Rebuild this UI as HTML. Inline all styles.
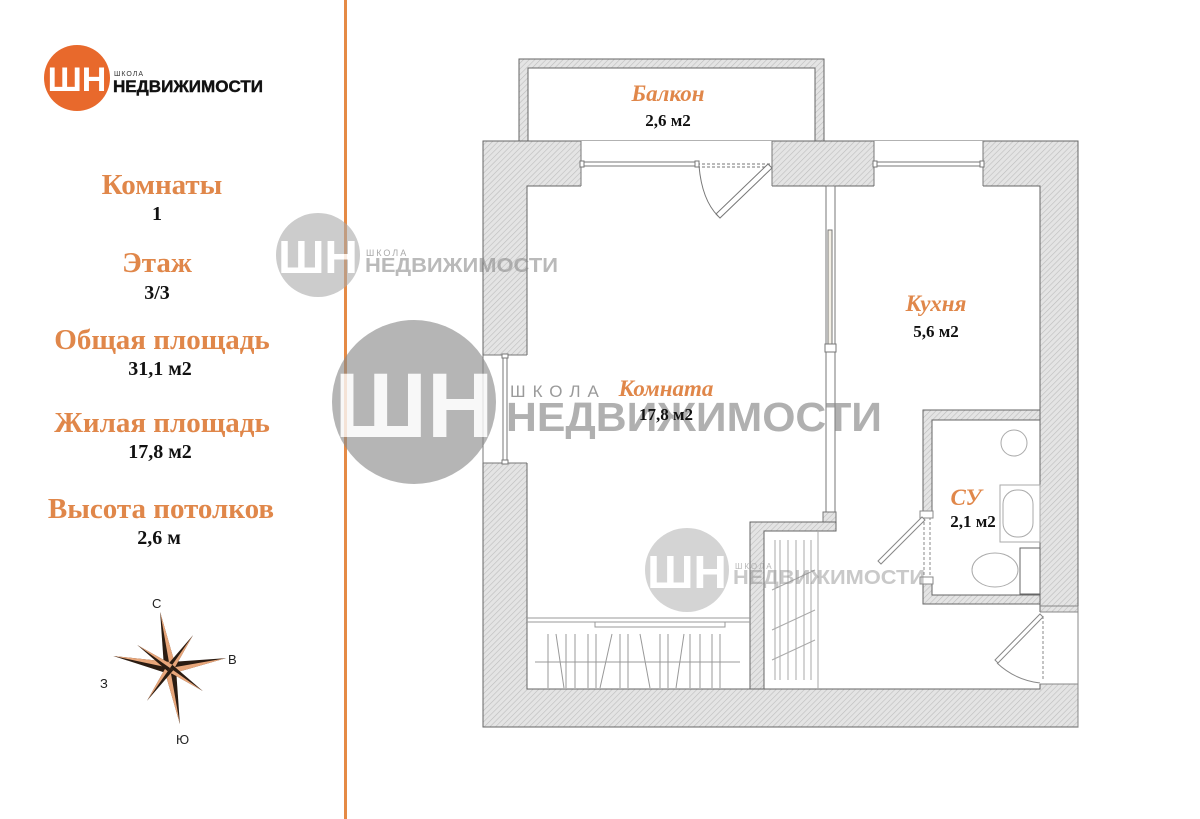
<!DOCTYPE html>
<html><head><meta charset="utf-8"><style>
html,body{margin:0;padding:0;background:#fff;}
svg{display:block}
.o{font-family:"Liberation Serif",serif;font-weight:bold;fill:#e0874a;text-anchor:middle}
.b{font-family:"Liberation Serif",serif;font-weight:bold;fill:#111;text-anchor:middle}
.wm{font-family:"Liberation Sans",sans-serif;font-weight:bold;fill:#8a8a8a}
</style></head><body>
<svg width="1200" height="819" viewBox="0 0 1200 819" xmlns="http://www.w3.org/2000/svg">
<defs>
<pattern id="h" width="4" height="4" patternUnits="userSpaceOnUse" patternTransform="rotate(45)">
<rect width="4" height="4" fill="#e4e4e4"/><line x1="0" y1="0" x2="0" y2="4" stroke="#bdbdbd" stroke-width="1.2"/>
</pattern>
</defs>
<rect width="1200" height="819" fill="#fff"/>
<rect x="344" y="0" width="3" height="819" fill="#e58a45"/>

<!-- logo -->
<circle cx="77" cy="78" r="33" fill="#e8692c"/>
<text x="77" y="91" text-anchor="middle" font-family="Liberation Sans,sans-serif" font-weight="bold" font-size="34" fill="#fff">ШН</text>
<text x="114" y="76" font-family="Liberation Sans,sans-serif" font-size="7" fill="#333" letter-spacing="1">ШКОЛА</text>
<text x="113" y="92" font-family="Liberation Sans,sans-serif" font-weight="bold" font-size="16.5" fill="#111" textLength="150" lengthAdjust="spacingAndGlyphs" stroke="#111" stroke-width="0.4">НЕДВИЖИМОСТИ</text>

<!-- info -->
<text class="o" x="162" y="194" font-size="29">Комнаты</text>
<text class="b" x="157" y="220" font-size="20">1</text>
<text class="o" x="157" y="272" font-size="29">Этаж</text>
<text class="b" x="157" y="299" font-size="20">3/3</text>
<text class="o" x="162" y="349" font-size="29">Общая площадь</text>
<text class="b" x="160" y="375" font-size="20">31,1 м2</text>
<text class="o" x="162" y="432" font-size="29">Жилая площадь</text>
<text class="b" x="160" y="458" font-size="20">17,8 м2</text>
<text class="o" x="161" y="518" font-size="29">Высота потолков</text>
<text class="b" x="159" y="544" font-size="20">2,6 м</text>

<!-- compass -->
<g transform="translate(170,668)">
<polygon points="0,-57 6,0 -6,0" fill="#2b1c12" transform="rotate(-10)"/>
<polygon points="0,-57 6,0 0,0" fill="#e8a67a" transform="rotate(-10)"/>
<polygon points="0,-57 6,0 -6,0" fill="#2b1c12" transform="rotate(170)"/>
<polygon points="0,-57 6,0 0,0" fill="#e8a67a" transform="rotate(170)"/>
<polygon points="0,-57 6,0 -6,0" fill="#2b1c12" transform="rotate(80)"/>
<polygon points="0,-57 6,0 0,0" fill="#e8a67a" transform="rotate(80)"/>
<polygon points="0,-58 6,0 -6,0" fill="#2b1c12" transform="rotate(-78)"/>
<polygon points="0,-58 6,0 0,0" fill="#e8a67a" transform="rotate(-78)"/>
<polygon points="0,-40 4,0 -4,0" fill="#2b1c12" transform="rotate(35)"/>
<polygon points="0,-40 4,0 0,0" fill="#e8a67a" transform="rotate(35)"/>
<polygon points="0,-40 4,0 -4,0" fill="#2b1c12" transform="rotate(125)"/>
<polygon points="0,-40 4,0 0,0" fill="#e8a67a" transform="rotate(125)"/>
<polygon points="0,-40 4,0 -4,0" fill="#2b1c12" transform="rotate(215)"/>
<polygon points="0,-40 4,0 0,0" fill="#e8a67a" transform="rotate(215)"/>
<polygon points="0,-40 4,0 -4,0" fill="#2b1c12" transform="rotate(305)"/>
<polygon points="0,-40 4,0 0,0" fill="#e8a67a" transform="rotate(305)"/>
</g>
<g font-family="Liberation Sans,sans-serif" font-size="13" fill="#222">
<text x="152" y="608">С</text><text x="228" y="664">В</text><text x="100" y="688">З</text><text x="176" y="744">Ю</text>
</g>

<!-- floor plan walls -->
<g stroke="#666" stroke-width="1">
<rect x="519" y="59" width="305" height="82" fill="url(#h)"/>
<rect x="528" y="68" width="287" height="73" fill="#fff"/>
<rect x="483" y="141" width="595" height="586" fill="url(#h)"/>
<rect x="527" y="186" width="513" height="503" fill="#fff"/>
</g>
<rect x="581" y="141" width="191" height="46" fill="#fff"/>
<rect x="874" y="141" width="109" height="46" fill="#fff"/>
<g stroke="#777" fill="none" stroke-width="1">
<line x1="581" y1="141" x2="581" y2="186"/><line x1="772" y1="141" x2="772" y2="186"/>
<line x1="874" y1="141" x2="874" y2="186"/><line x1="983" y1="141" x2="983" y2="186"/>
<line x1="583" y1="162" x2="697" y2="162"/><line x1="583" y1="166" x2="697" y2="166"/>
<line x1="697" y1="164" x2="770" y2="164" stroke-dasharray="3,2"/>
<line x1="697" y1="167" x2="770" y2="167" stroke-dasharray="3,2"/>
<line x1="876" y1="162" x2="981" y2="162"/><line x1="876" y1="166" x2="981" y2="166"/>
<rect x="580" y="161" width="4" height="6" fill="#fff"/><rect x="695" y="161" width="4" height="6" fill="#fff"/>
<rect x="873" y="161" width="4" height="6" fill="#fff"/><rect x="980" y="161" width="4" height="6" fill="#fff"/>
<polygon points="768,164 772,168 720,218 716,214" fill="#fff"/>
<path d="M699,166 Q702,200 718,216"/>
</g>
<rect x="483" y="355" width="45" height="108" fill="#fff"/>
<g stroke="#777" fill="none">
<line x1="483" y1="355" x2="527" y2="355"/><line x1="483" y1="463" x2="527" y2="463"/>
<line x1="483" y1="355" x2="483" y2="463"/>
<line x1="503" y1="357" x2="503" y2="461"/><line x1="507" y1="357" x2="507" y2="461"/>
<rect x="502" y="354" width="6" height="4" fill="#fff"/><rect x="502" y="460" width="6" height="4" fill="#fff"/>
</g>
<g stroke="#777" fill="#fff">
<rect x="826" y="186" width="9" height="330"/>
<rect x="828" y="230" width="4" height="120" fill="#f4f0e6"/>
<rect x="825" y="344" width="11" height="8"/>
<rect x="823" y="512" width="13" height="10" fill="url(#h)"/>
</g>
<g stroke="#666">
<path d="M750,522 L836,522 L836,531 L764,531 L764,689 L750,689 Z" fill="url(#h)"/>
</g>
<g stroke="#aaa" stroke-width="1">
<line x1="818" y1="531" x2="818" y2="689"/>
<line x1="775" y1="540" x2="775" y2="680"/><line x1="780" y1="540" x2="780" y2="680"/>
<line x1="788" y1="540" x2="788" y2="680"/><line x1="796" y1="540" x2="796" y2="680"/>
<line x1="804" y1="540" x2="804" y2="680"/><line x1="811" y1="540" x2="811" y2="680"/>
<line x1="772" y1="590" x2="815" y2="570"/><line x1="772" y1="630" x2="815" y2="610"/><line x1="772" y1="660" x2="815" y2="640"/>
</g>
<g stroke="#999" fill="none">
<line x1="527" y1="618" x2="750" y2="618"/><line x1="527" y1="622" x2="750" y2="622"/>
<rect x="595" y="622" width="130" height="5"/>
<line x1="535" y1="662" x2="740" y2="662"/>
<line x1="548" y1="634" x2="548" y2="688"/><line x1="556" y1="634" x2="564" y2="688"/>
<line x1="566" y1="634" x2="566" y2="688"/><line x1="575" y1="634" x2="575" y2="688"/>
<line x1="588" y1="634" x2="588" y2="688"/><line x1="596" y1="634" x2="596" y2="688"/>
<line x1="612" y1="634" x2="600" y2="688"/><line x1="620" y1="634" x2="620" y2="688"/>
<line x1="628" y1="634" x2="628" y2="688"/><line x1="640" y1="634" x2="650" y2="688"/>
<line x1="660" y1="634" x2="660" y2="688"/><line x1="668" y1="634" x2="668" y2="688"/>
<line x1="684" y1="634" x2="676" y2="688"/><line x1="690" y1="634" x2="690" y2="688"/>
<line x1="700" y1="634" x2="700" y2="688"/><line x1="712" y1="634" x2="712" y2="688"/>
<line x1="720" y1="634" x2="720" y2="688"/>
</g>
<g stroke="#666">
<path d="M923,410 L1040,410 L1040,420 L932,420 L932,595 L1040,595 L1040,604 L923,604 Z" fill="url(#h)"/>
</g>
<rect x="922" y="513" width="12" height="68" fill="#fff"/>
<g stroke="#888" fill="none">
<line x1="924" y1="517" x2="924" y2="577" stroke-dasharray="3,2"/>
<line x1="930" y1="517" x2="930" y2="577" stroke-dasharray="3,2"/>
<rect x="920" y="511" width="13" height="7" fill="#fff"/><rect x="920" y="577" width="13" height="7" fill="#fff"/>
<polygon points="922,517 925,520 881,564 878,561" fill="#fff"/>
<circle cx="1014" cy="443" r="13" fill="#fff" stroke="#aaa"/>
<rect x="1000" y="485" width="40" height="57" fill="#fff" stroke="#aaa"/>
<rect x="1003" y="490" width="30" height="47" rx="14" stroke="#aaa"/>
<rect x="1020" y="548" width="20" height="46" fill="#fff" stroke="#666"/>
<ellipse cx="995" cy="570" rx="23" ry="17" fill="#fff" stroke="#aaa"/>
</g>
<rect x="1038" y="612" width="41" height="72" fill="#fff"/>
<g stroke="#888" fill="none">
<line x1="1040" y1="612" x2="1078" y2="612"/><line x1="1040" y1="684" x2="1078" y2="684"/>
<line x1="1040" y1="606" x2="1078" y2="606"/><line x1="1078" y1="606" x2="1078" y2="727"/>
<line x1="1043" y1="616" x2="1043" y2="680" stroke-dasharray="3,2"/>
<polygon points="1040,614 1043,617 998,663 995,660" fill="#fff"/>
<path d="M997,663 Q1015,680 1040,683"/>
</g>

<!-- watermarks -->
<g opacity="0.85">
<circle cx="318" cy="255" r="42" fill="#a8a8a8" opacity="0.7"/>
<text x="318" y="273" text-anchor="middle" class="wm" font-size="46" style="fill:#fff">ШН</text>
<text x="366" y="256" font-family="Liberation Sans,sans-serif" font-size="9" fill="#999" letter-spacing="2">ШКОЛА</text>
<text x="365" y="272" class="wm" font-size="20" opacity="0.7" textLength="193" lengthAdjust="spacingAndGlyphs">НЕДВИЖИМОСТИ</text>

<circle cx="414" cy="402" r="82" fill="#8a8a8a" opacity="0.75"/>
<text x="414" y="437" text-anchor="middle" class="wm" font-size="92" style="fill:#fff" opacity="0.9">ШН</text>
<text x="510" y="397" font-family="Liberation Sans,sans-serif" font-size="17" fill="#888" letter-spacing="7">ШКОЛА</text>
<text x="506" y="431" class="wm" font-size="41" opacity="0.8" textLength="376" lengthAdjust="spacingAndGlyphs">НЕДВИЖИМОСТИ</text>

<circle cx="687" cy="570" r="42" fill="#aaa" opacity="0.6"/>
<text x="687" y="588" text-anchor="middle" class="wm" font-size="46" style="fill:#fff">ШН</text>
<text x="735" y="569" font-family="Liberation Sans,sans-serif" font-size="8" fill="#aaa" letter-spacing="2">ШКОЛА</text>
<text x="733" y="584" class="wm" font-size="20" opacity="0.55" textLength="192" lengthAdjust="spacingAndGlyphs">НЕДВИЖИМОСТИ</text>
</g>

<g font-style="italic">
<text class="o" x="668" y="101" font-size="23">Балкон</text>
<text class="o" x="936" y="311" font-size="23">Кухня</text>
<text class="o" x="666" y="396" font-size="23">Комната</text>
<text class="o" x="966" y="505" font-size="23">СУ</text>
</g>
<text class="b" x="668" y="126" font-size="17">2,6 м2</text>
<text class="b" x="936" y="337" font-size="17">5,6 м2</text>
<text class="b" x="666" y="420" font-size="17">17,8 м2</text>
<text class="b" x="973" y="527" font-size="17">2,1 м2</text>
</svg>
</body></html>
